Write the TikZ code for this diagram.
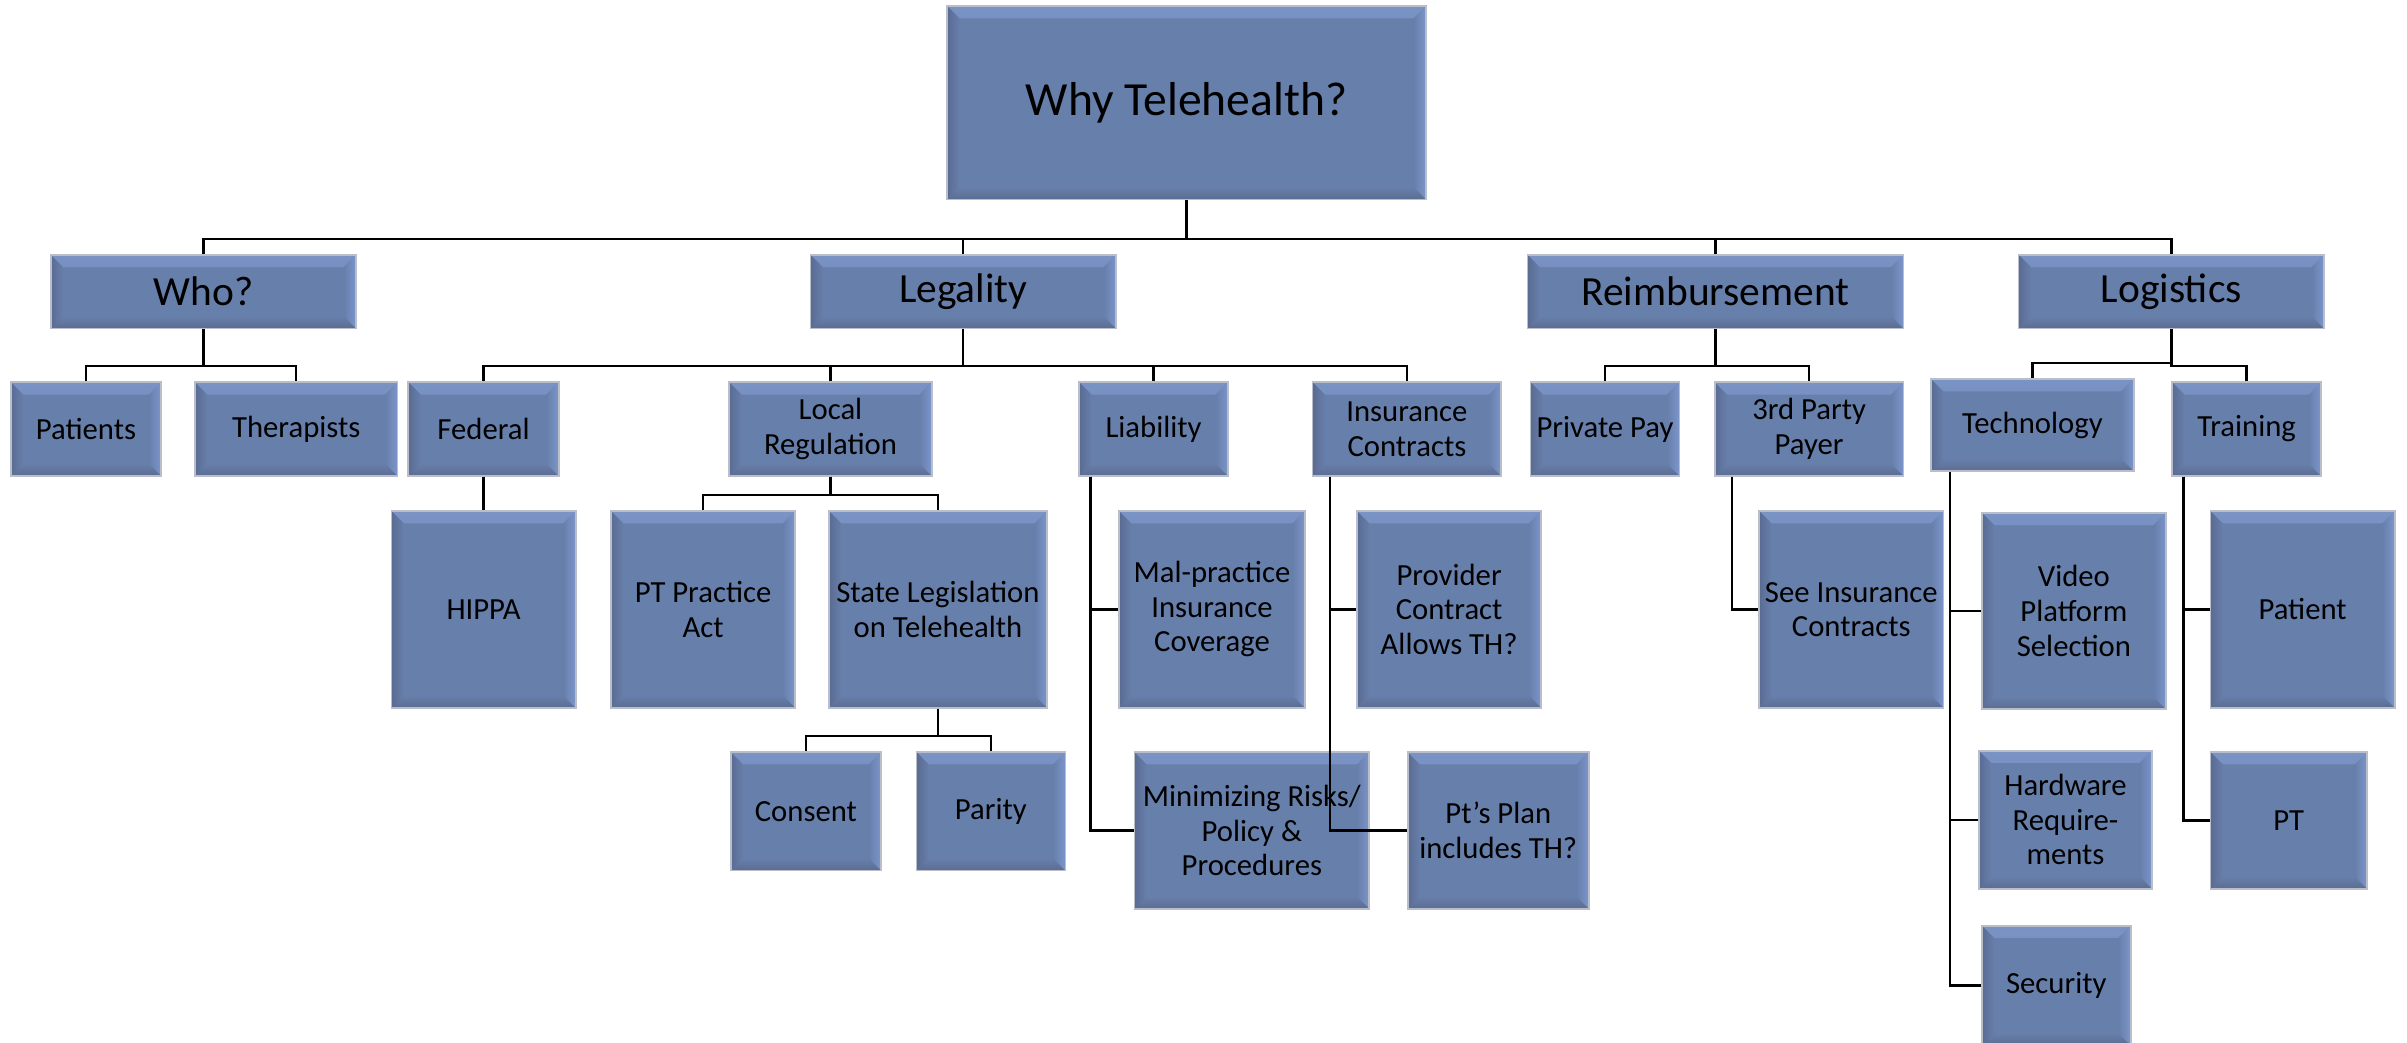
\documentclass[tikz,border=0pt]{standalone}
\usepackage{fontspec}
\setmainfont{Carlito}
\definecolor{bxface}{RGB}{103,127,171}
\definecolor{bxtop}{RGB}{122,147,197}
\definecolor{bxright}{RGB}{124,150,203}
\definecolor{bxleft}{RGB}{90,107,146}
\definecolor{bxbottom}{RGB}{92,108,145}
\definecolor{bxborder}{RGB}{185,190,202}
\tikzset{
  mybox/.style={draw=bxborder, line width=1.1pt, fill=bxface, align=center,
    inner sep=2pt, text=black, font=\fontsize{20}{22.5}\selectfont,
    path picture={
      \shade[top color=bxtop, bottom color=bxface] (path picture bounding box.north west) -- (path picture bounding box.north east)
        -- ([shift={(-8pt,-8pt)}]path picture bounding box.north east)
        -- ([shift={(8pt,-8pt)}]path picture bounding box.north west) -- cycle;
      \shade[bottom color=bxbottom, top color=bxface] (path picture bounding box.south west) -- (path picture bounding box.south east)
        -- ([shift={(-8pt,8pt)}]path picture bounding box.south east)
        -- ([shift={(8pt,8pt)}]path picture bounding box.south west) -- cycle;
      \shade[left color=bxleft, right color=bxface] (path picture bounding box.north west) -- (path picture bounding box.south west)
        -- ([shift={(8pt,8pt)}]path picture bounding box.south west)
        -- ([shift={(8pt,-8pt)}]path picture bounding box.north west) -- cycle;
      \shade[right color=bxright, left color=bxface] (path picture bounding box.north east) -- (path picture bounding box.south east)
        -- ([shift={(-8pt,8pt)}]path picture bounding box.south east)
        -- ([shift={(-8pt,-8pt)}]path picture bounding box.north east) -- cycle;
    }},
  rootfont/.style={font=\fontsize{31}{37}\selectfont},
  topfont/.style={font=\fontsize{27}{32}\selectfont},
  conn/.style={draw=black, line width=1.5pt}
}
\newcommand\mkbox[7][]{\node[mybox,#1,minimum width={(#5-#3)*1pt},minimum height={(#6-#4)*1pt}] (#2) at ({(#3+#5)/2},{(#4+#6)/2}) {#7};}
\begin{document}
\begin{tikzpicture}[x=1pt,y=-1pt]
\fill[white] (0,0) rectangle (1568,679.3);
\useasboundingbox (0,0) rectangle (1568,679.3);
% level 0
\mkbox[rootfont]{root}{617}{4}{929}{130}{Why Telehealth?}
% level 1
\mkbox[topfont]{who}{33}{166}{232}{214}{Who?}
\mkbox[topfont]{legal}{528}{166}{727}{214}{Legality}
\mkbox[topfont]{reimb}{995}{166}{1240}{214}{Reimbursement}
\mkbox[topfont]{logis}{1315}{166}{1514}{214}{Logistics}
% level 2
\mkbox{patients}{7}{249}{105}{310}{Patients}
\mkbox{therap}{127}{249}{259}{310}{Therapists}
\mkbox{federal}{266}{249}{364}{310}{Federal}
\mkbox{localreg}{475}{249}{607}{310}{Local\\Regulation}
\mkbox{liab}{703}{249}{800}{310}{Liability}
\mkbox{inscon}{855}{249}{978}{310}{Insurance\\Contracts}
\mkbox{privpay}{997}{249}{1094}{310}{Private Pay}
\mkbox{third}{1117}{249}{1240}{310}{3rd Party\\Payer}
\mkbox{tech}{1258}{247}{1390}{307}{Technology}
\mkbox{train}{1415}{249}{1512}{310}{Training}
% level 3
\mkbox{hippa}{255}{333}{375}{461}{HIPPA}
\mkbox{ptact}{398}{333}{518}{461}{PT Practice\\Act}
\mkbox{statel}{540}{333}{682}{461}{State Legislation\\on Telehealth}
\mkbox{malp}{729}{333}{850}{461}{Mal-practice\\Insurance\\Coverage}
\mkbox{provider}{884}{333}{1004}{461}{Provider\\Contract\\Allows TH?}
\mkbox{seeins}{1146}{333}{1266}{461}{See Insurance\\Contracts}
\mkbox{video}{1291}{334}{1411}{462}{Video\\Platform\\Selection}
\mkbox{tpatient}{1440}{333}{1560}{461}{Patient}
% level 4
\mkbox{consent}{476}{490}{574}{567}{Consent}
\mkbox{parity}{597}{490}{694}{567}{Parity}
\mkbox{minrisk}{739}{490}{892}{592}{Minimizing Risks/\\Policy \&\\Procedures}
\mkbox{ptplan}{917}{490}{1035}{592}{Pt’s Plan\\includes TH?}
\mkbox{hardware}{1289}{489}{1402}{579}{Hardware\\Require-\\ments}
\mkbox{tpt}{1440}{490}{1542}{579}{PT}
\mkbox{security}{1291}{603}{1388}{681}{Security}
% connectors: root
\draw[conn] (root.south) -- ++(0,25) -| (who.north);
\draw[conn] (root.south) -- ++(0,25) -| (legal.north);
\draw[conn] (root.south) -- ++(0,25) -| (reimb.north);
\draw[conn] (root.south) -- ++(0,25) -| (logis.north);
% who
\draw[conn] (who.south) -- ++(0,24) -| (patients.north);
\draw[conn] (who.south) -- ++(0,24) -| (therap.north);
% legality
\draw[conn] (legal.south) -- ++(0,24) -| (federal.north);
\draw[conn] (legal.south) -- ++(0,24) -| (localreg.north);
\draw[conn] (legal.south) -- ++(0,24) -| (liab.north);
\draw[conn] (legal.south) -- ++(0,24) -| (inscon.north);
\draw[conn] (federal.south) -- (hippa.north);
\draw[conn] (localreg.south) -- ++(0,12) -| (ptact.north);
\draw[conn] (localreg.south) -- ++(0,12) -| (statel.north);
\draw[conn] (statel.south) -- ++(0,18) -| (consent.north);
\draw[conn] (statel.south) -- ++(0,18) -| (parity.north);
\draw[conn] ([xshift=8pt]liab.south west) |- (malp.west);
\draw[conn] ([xshift=8pt]liab.south west) |- (minrisk.west);
\draw[conn] ([xshift=12pt]inscon.south west) |- (provider.west);
\draw[conn] ([xshift=12pt]inscon.south west) |- (ptplan.west);
% reimbursement
\draw[conn] (reimb.south) -- ++(0,24) -| (privpay.north);
\draw[conn] (reimb.south) -- ++(0,24) -| (third.north);
\draw[conn] ([xshift=12pt]third.south west) |- (seeins.west);
% logistics
\draw[conn] (logis.south) -- ++(0,22) -| (tech.north);
\draw[conn] (logis.south) -- ++(0,24) -| (train.north);
\draw[conn] ([xshift=13pt]tech.south west) |- (video.west);
\draw[conn] ([xshift=13pt]tech.south west) |- (hardware.west);
\draw[conn] ([xshift=13pt]tech.south west) |- (security.west);
\draw[conn] ([xshift=8pt]train.south west) |- (tpatient.west);
\draw[conn] ([xshift=8pt]train.south west) |- (tpt.west);
\end{tikzpicture}
\end{document}
